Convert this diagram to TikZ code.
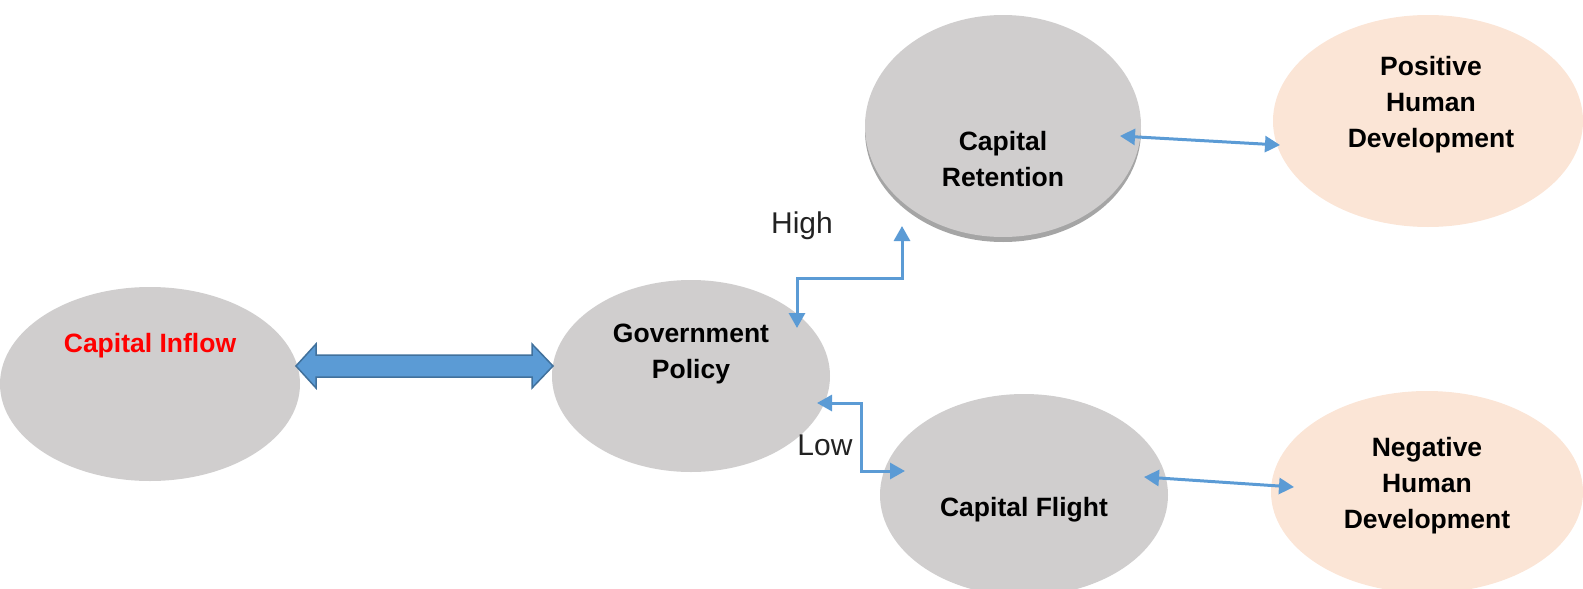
\documentclass[tikz,border=0pt]{standalone}
\usepackage{fontspec}
\setmainfont{Liberation Sans}
\usetikzlibrary{shapes.geometric,arrows.meta}
\definecolor{ellgray}{HTML}{D0CECE}
\definecolor{ellshadow}{HTML}{A5A5A5}
\definecolor{peach}{HTML}{FBE5D6}
\definecolor{conblue}{HTML}{5B9BD5}
\definecolor{darkblue}{HTML}{41719C}
\definecolor{lowtext}{HTML}{222222}
\begin{document}
\begin{tikzpicture}[x=1pt,y=-1pt,
  bubble/.style={ellipse, fill=ellgray, draw=none, inner sep=0pt},
  peachbubble/.style={ellipse, fill=peach, draw=none, inner sep=0pt},
  lbl/.style={font=\fontsize{26.5}{36}\selectfont\bfseries, align=center, text=black, inner sep=0pt},
  cond/.style={font=\fontsize{30}{36}\selectfont, text=lowtext, inner sep=0pt},
  link/.style={draw=conblue, line width=3pt, {Triangle[width=16pt,length=15pt]}-{Triangle[width=16pt,length=15pt]}},
  bigarrow/.style={fill=conblue, draw=darkblue, line width=1.5pt, line join=miter}]
\useasboundingbox (0,0) rectangle (1583,589);
% ellipses
\node[bubble, minimum width=300pt, minimum height=194pt] (inflow) at (150,384) {};
\node[bubble, minimum width=278pt, minimum height=192pt] (gov) at (691,376) {};
\node[ellipse, fill=ellshadow, inner sep=0pt, minimum width=276pt, minimum height=222pt] (retshadow) at (1003,131) {};
\node[bubble, minimum width=276pt, minimum height=222pt] (ret) at (1003,126) {};
\node[bubble, minimum width=288pt, minimum height=202pt] (flight) at (1024,495) {};
\node[peachbubble, minimum width=310pt, minimum height=212pt] (pos) at (1428,121) {};
\node[peachbubble, minimum width=312pt, minimum height=202pt] (neg) at (1427,492) {};
% labels
\node[lbl, text=red] (inflowtxt) at (150,346) {Capital Inflow};
\node[lbl] (govtxt) at (691,354) {Government\\Policy};
\node[lbl] (rettxt) at (1003,159) {Capital\\Retention};
\node[lbl] (flighttxt) at (1024,510) {Capital Flight};
\node[lbl] (postxt) at (1431,105) {Positive\\Human\\Development};
\node[lbl] (negtxt) at (1427,486) {Negative\\Human\\Development};
\node[cond] (high) at (802,226) {High};
\node[cond] (low) at (825,445) {Low};
% big double arrow
\coordinate (bl) at (296,366);
\coordinate (br) at (553,366);
\fill[bigarrow] (bl) -- (316,344) -- (316,355) -- (532,355) -- (532,344) -- (br) -- (532,388) -- (532,377) -- (316,377) -- (316,388) -- cycle;
% elbow connectors
\coordinate (h1) at (797,328);
\coordinate (h2) at (797,278);
\coordinate (h3) at (902,278);
\coordinate (h4) at (902,226);
\draw[link] (h1) -- (h2) -- (h3) -- (h4);
\coordinate (l1) at (817,403);
\coordinate (l2) at (861,403);
\coordinate (l3) at (861,471);
\coordinate (l4) at (905,471);
\draw[link] (l1) -- (l2) -- (l3) -- (l4);
% diagonal connectors
\coordinate (r1) at (1120,136);
\coordinate (r2) at (1280,145);
\draw[link] (r1) -- (r2);
\coordinate (f1) at (1144,477);
\coordinate (f2) at (1294,487);
\draw[link] (f1) -- (f2);
\end{tikzpicture}
\end{document}
